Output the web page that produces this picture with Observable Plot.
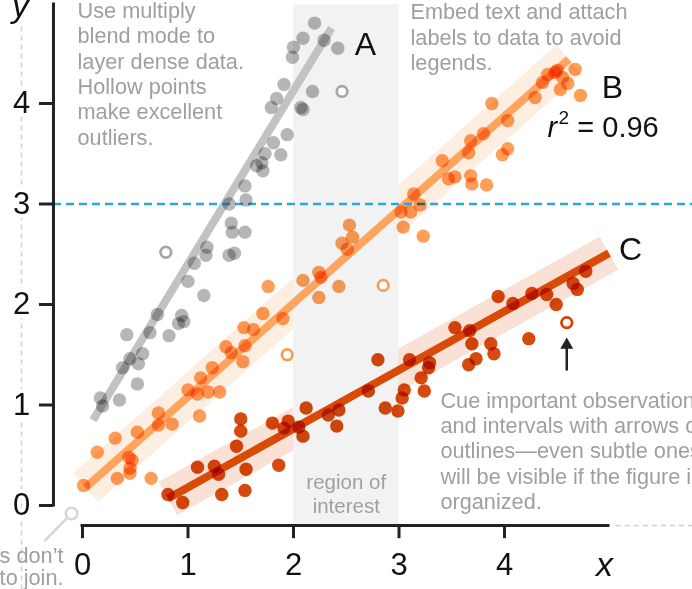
<!DOCTYPE html>
<html><head><meta charset="utf-8">
<script src="https://cdn.jsdelivr.net/npm/d3@7"></script>
<script src="https://cdn.jsdelivr.net/npm/@observablehq/plot@0.6"></script>
<style>body{margin:0;background:#fff}</style>
</head><body><div id="chart"></div>
<script>
// ---- data ----
const xTicks = [0, 1, 2, 3, 4];
const yTicks = [0, 1, 2, 3, 4];
const threshold = [3];
const regionOfInterest = [{x1: 2, x2: 3}];
const seriesNames = ["A", "B", "C"];
const r2Value = "0.96";

const pointsA = [[2.20,4.80],[2.09,4.65],[2.00,4.56],[1.99,4.46],[2.29,4.63],[2.42,4.55],[1.91,4.19],[2.18,4.12],[1.84,4.05],[1.79,3.96],[2.07,3.96],[2.09,3.94],[1.94,3.69],[1.81,3.61],[1.88,3.49],[1.73,3.50],[1.70,3.41],[1.71,3.33],[1.65,3.38],[1.54,3.18],[1.55,3.04],[1.39,3.00],[1.41,2.81],[1.42,2.72],[1.54,2.72],[1.18,2.57],[1.17,2.49],[1.39,2.49],[1.44,2.51],[1.06,2.41],[1.00,2.23],[1.15,2.09],[0.71,1.90],[0.94,1.89],[0.91,1.81],[0.96,1.83],[0.42,1.70],[0.64,1.72],[0.82,1.69],[0.57,1.51],[0.45,1.46],[0.53,1.41],[0.38,1.37],[0.52,1.21],[0.17,1.07],[0.35,1.05],[0.19,0.99]];
const outliersA = [[0.79,2.52],[2.46,4.12]];
const fitA = [[0.10,0.85],[2.36,4.75]];

const pointsB = [[4.67,4.34],[4.48,4.31],[4.41,4.29],[4.50,4.33],[4.55,4.26],[4.36,4.21],[4.60,4.20],[4.53,4.14],[4.72,4.08],[4.29,4.06],[3.88,4.00],[4.03,3.83],[3.80,3.70],[3.68,3.63],[3.66,3.51],[4.03,3.55],[3.98,3.49],[3.41,3.43],[3.53,3.27],[3.47,3.25],[3.68,3.28],[3.69,3.20],[3.83,3.19],[3.14,3.10],[3.20,2.99],[3.11,2.92],[3.02,2.92],[3.04,2.77],[3.23,2.68],[2.53,2.79],[2.56,2.67],[2.46,2.61],[2.51,2.55],[1.76,2.18],[2.09,2.24],[2.24,2.32],[2.26,2.27],[2.43,2.18],[2.24,2.07],[1.71,1.91],[1.90,1.86],[1.53,1.77],[1.62,1.75],[1.36,1.58],[1.41,1.52],[1.54,1.59],[1.52,1.43],[1.23,1.37],[1.12,1.27],[1.00,1.15],[1.09,1.11],[1.19,1.13],[1.30,1.13],[0.72,0.92],[1.11,0.89],[0.85,0.81],[0.72,0.80],[0.52,0.73],[0.31,0.67],[0.14,0.53],[0.44,0.48],[0.47,0.45],[0.45,0.37],[0.45,0.32],[0.33,0.27],[0.65,0.27],[0.01,0.20]];
const outliersB = [[1.94,1.50],[2.85,2.19]];
const fitB = [[0.03,0.18],[4.61,4.44]];

const pointsC = [[4.77,2.33],[4.65,2.21],[4.69,2.15],[4.49,2.00],[4.40,2.10],[4.26,2.11],[4.08,2.01],[3.94,2.08],[3.67,1.74],[3.53,1.77],[3.69,1.61],[3.87,1.61],[3.90,1.51],[3.73,1.46],[3.66,1.40],[4.23,1.66],[3.29,1.42],[3.28,1.37],[3.10,1.45],[3.21,1.27],[3.24,1.14],[3.05,1.15],[3.03,1.07],[2.87,0.97],[2.99,0.94],[2.80,1.45],[2.71,1.14],[2.43,0.95],[2.33,0.90],[2.41,0.79],[2.12,0.97],[2.05,0.78],[2.09,0.69],[1.95,0.84],[1.91,0.77],[1.80,0.82],[1.86,0.40],[1.50,0.86],[1.50,0.74],[1.46,0.59],[1.55,0.36],[1.54,0.15],[1.25,0.39],[1.29,0.31],[1.09,0.38],[1.32,0.11],[0.81,0.11],[0.95,0.03]];
const outliersC = [[4.59,1.82]];
const fitC = [[0.81,0.07],[4.99,2.51]];

const noteBlend = "Use multiply\nblend mode to\nlayer dense data.\nHollow points\nmake excellent\noutliers.";
const noteLabels = "Embed text and attach\nlabels to data to avoid\nlegends.";
const noteCue = "Cue important observations\nand intervals with arrows or\noutlines\u2014even subtle ones\nwill be visible if the figure is\norganized.";
const noteRegion = "region of\ninterest";
const noteAxes = "Axes don\u2019t\nneed to join.";

// ---- styles ----
const FONT = "Liberation Sans, Arial, Helvetica, sans-serif";
const NOTE = "#9f9f9f";
const AX = "#222";
const px = d => d[0], py = d => d[1];

const chart = Plot.plot({
  width: 692,
  height: 589,
  x: {domain: [0, 4], range: [82, 504], axis: null},
  y: {domain: [0, 4], range: [505, 103], axis: null},
  style: {fontFamily: FONT, background: "white"},
  marks: [
    // bands
    Plot.line(fitB, {x: px, y: py, stroke: "#fdeee2", strokeWidth: 38, strokeLinecap: "butt"}),
    Plot.line(fitC, {x: px, y: py, stroke: "#f9e1d6", strokeWidth: 38, strokeLinecap: "butt"}),
    // region of interest
    Plot.rect(regionOfInterest, {x1: "x1", x2: "x2", y1: -0.19, y2: 4.98, fill: "#f2f2f2"}),
    Plot.text([noteRegion], {x: 2.5, y: -0.07, text: d => d, lineAnchor: "bottom", lineHeight: 1.17, fontSize: 20.5, fill: NOTE}),
    // guide dashed lines
    Plot.ruleX([-0.578], {y1: -0.84, y2: 4.78, stroke: "#cfcfcf", strokeWidth: 1.5, strokeDasharray: "5,4"}),
    Plot.ruleY([-0.199], {x1: 5.06, x2: 5.8, stroke: "#cfcfcf", strokeWidth: 1.5, strokeDasharray: "5,4"}),
    // fit lines
    Plot.line(fitA, {x: px, y: py, stroke: "#c2c2c2", strokeWidth: 8, strokeLinecap: "butt"}),
    Plot.line(fitB, {x: px, y: py, stroke: "#fda45f", strokeWidth: 8, strokeLinecap: "butt"}),
    Plot.line(fitC, {x: px, y: py, stroke: "#d84a06", strokeWidth: 8, strokeLinecap: "butt"}),
    // threshold
    Plot.ruleY(threshold, {x1: -0.275, x2: 5.8, stroke: "#2aa7df", strokeWidth: 2.5, strokeDasharray: "8,5"}),
    // points
    Plot.dot(pointsA, {x: px, y: py, r: 6.7, fill: "#a6a6a6", fillOpacity: 0.82, mixBlendMode: "multiply"}),
    Plot.dot(pointsB, {x: px, y: py, r: 6.7, fill: "#fd8d3c", fillOpacity: 0.85, mixBlendMode: "multiply"}),
    Plot.dot(pointsC, {x: px, y: py, r: 6.7, fill: "#d44000", fillOpacity: 0.95, mixBlendMode: "multiply"}),
    // hollow outliers
    Plot.dot(outliersA, {x: px, y: py, r: 5.3, stroke: "#a6a6a6", strokeWidth: 2.7, fill: "white"}),
    Plot.dot(outliersB, {x: px, y: py, r: 5.3, stroke: "#fd9a50", strokeWidth: 2.7, fill: "white"}),
    Plot.dot(outliersC, {x: px, y: py, r: 5.3, stroke: "#d44000", strokeWidth: 2.7, fill: "white"}),
    // arrow to outlier C
    Plot.link([outliersC[0]], {x1: px, x2: px, y1: 1.343, y2: 1.62, stroke: AX, strokeWidth: 2.5}),
    Plot.dot([outliersC[0]], {x: px, y: 1.597, symbol: "triangle", r: 4.8, fill: AX, stroke: "none"}),
    // pin for axes note
    Plot.link([0], {x1: -0.15, y1: -0.129, x2: -0.36, y2: -0.355, stroke: "#d6d6d6", strokeWidth: 2.5}),
    Plot.dot([0], {x: -0.104, y: -0.08, r: 5.8, stroke: "#d6d6d6", strokeWidth: 2.5, fill: "white"}),
    // axes
    Plot.ruleX([-0.275], {y1: -0.015, y2: 5.0, stroke: AX, strokeWidth: 3}),
    Plot.ruleY(yTicks, {x1: -0.408, x2: -0.275, stroke: AX, strokeWidth: 3}),
    Plot.ruleY([-0.199], {x1: -0.014, x2: 5.0, stroke: AX, strokeWidth: 3}),
    Plot.ruleX(xTicks, {y1: -0.199, y2: -0.33, stroke: AX, strokeWidth: 3}),
    Plot.text(yTicks, {x: -0.578, y: d => d, text: d => String(d), fontSize: 31, fill: "#111", stroke: "white", strokeWidth: 8}),
    Plot.text(xTicks, {x: d => d, y: -0.692, text: d => String(d), lineAnchor: "bottom", fontSize: 31, fill: "#111"}),
    Plot.text(["y"], {x: -0.588, y: 4.856, text: d => d, lineAnchor: "bottom", fontSize: 34, fontStyle: "italic", fill: "#111", stroke: "white", strokeWidth: 6}),
    Plot.text(["x"], {x: 4.948, y: -0.697, text: d => d, lineAnchor: "bottom", fontSize: 34, fontStyle: "italic", fill: "#111"}),
    // series labels
    Plot.text([seriesNames[0]], {x: 2.682, y: 4.478, text: d => d, lineAnchor: "bottom", fontSize: 32, fill: "#111"}),
    Plot.text([seriesNames[1]], {x: 5.024, y: 4.05, text: d => d, lineAnchor: "bottom", fontSize: 32, fill: "#111"}),
    Plot.text([seriesNames[2]], {x: 5.194, y: 2.438, text: d => d, lineAnchor: "bottom", fontSize: 32, fill: "#111"}),
    Plot.text(["r"], {x: 4.408, y: 3.662, text: d => d, lineAnchor: "bottom", textAnchor: "start", fontSize: 29, fontStyle: "italic", fill: "#111"}),
    Plot.text(["2"], {x: 4.512, y: 3.80, text: d => d, lineAnchor: "bottom", textAnchor: "start", fontSize: 19, fill: "#111"}),
    Plot.text(["= " + r2Value], {x: 4.69, y: 3.662, text: d => d, lineAnchor: "bottom", textAnchor: "start", fontSize: 29, fill: "#111"}),
    // notes
    Plot.text([noteBlend], {x: -0.047, y: 3.589, text: d => d, lineAnchor: "bottom", textAnchor: "start", lineHeight: 1.17, fontSize: 21.7, fill: NOTE}),
    Plot.text([noteLabels], {x: 3.109, y: 4.334, text: d => d, lineAnchor: "bottom", textAnchor: "start", lineHeight: 1.17, fontSize: 21.7, fill: NOTE}),
    Plot.text([noteCue], {x: 3.393, y: -0.036, text: d => d, lineAnchor: "bottom", textAnchor: "start", lineHeight: 1.17, fontSize: 21.7, fill: NOTE}),
    Plot.text([noteAxes], {x: -0.18, y: -0.796, text: d => d, lineAnchor: "bottom", textAnchor: "end", lineHeight: 1.05, fontSize: 21.7, fill: NOTE})
  ]
});
document.getElementById("chart").appendChild(chart);
</script>
</body></html>
